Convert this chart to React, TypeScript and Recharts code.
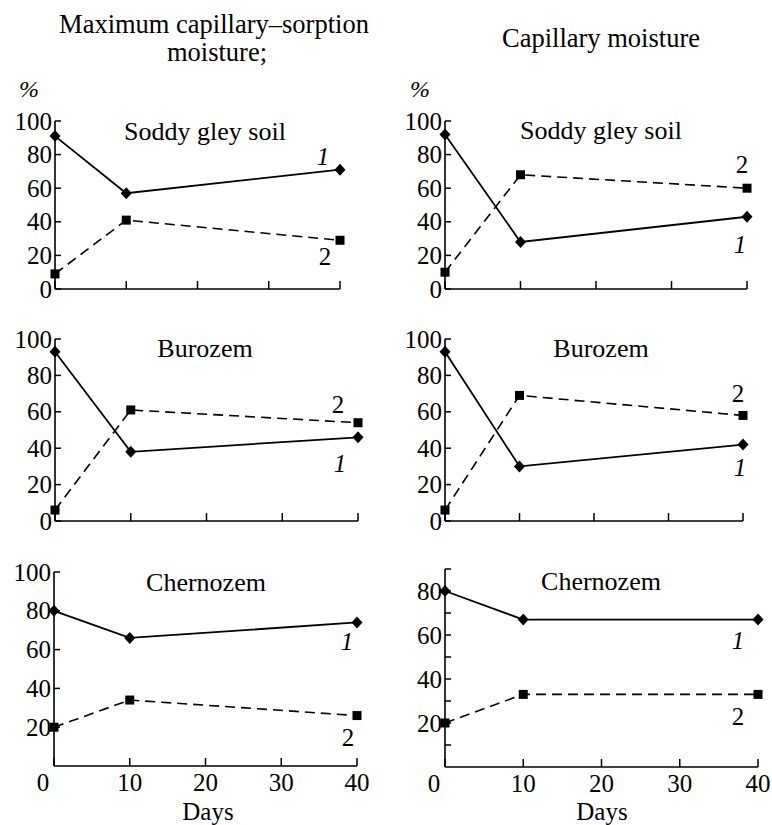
import React from 'react';
import { LineChart, Line, XAxis, YAxis, LabelList } from 'recharts';

const FONT = '"Liberation Serif", "Times New Roman", "DejaVu Serif", serif';
const TICK_MARGIN = 6;
const txt = (size: number, italic = false): React.CSSProperties => ({
  fontFamily: FONT,
  fontSize: size,
  fontStyle: italic ? 'italic' : 'normal',
  fill: '#000',
});

// sampling days (x) and axis ticks
const days = [0, 10, 40];
const xTicks = [0, 10, 20, 30, 40];
const yTicksFull = [0, 20, 40, 60, 80, 100];
const yTicksChernMax = [20, 40, 60, 80, 100];
const yTicksChernCap = [10, 20, 30, 40, 50, 60, 70, 80, 90];
const yLabelsChernCap = [20, 40, 60, 80];

// 1 = solid line with diamonds, 2 = dashed line with squares
const soddyMax1 = [91, 57, 71];
const soddyMax2 = [9, 41, 29];
const soddyCap1 = [92, 28, 43];
const soddyCap2 = [10, 68, 60];
const buroMax1 = [93, 38, 46];
const buroMax2 = [6, 61, 54];
const buroCap1 = [93, 30, 42];
const buroCap2 = [6, 69, 58];
const chernMax1 = [80, 66, 74];
const chernMax2 = [20, 34, 26];
const chernCap1 = [80, 67, 67];
const chernCap2 = [20, 33, 33];

const toRows = (a: number[], b: number[]) =>
  days.map((d, i) => ({ day: d, s1: a[i], s2: b[i] }));

const panels = [
  { id: 'p1', rows: toRows(soddyMax1, soddyMax2), domain: [0, 100], ticks: yTicksFull, labels: yTicksFull, xLabels: false,
    px: 55, py: 121, pw: 285, ph: 168, lab1: [-17, -13], lab2: [-15, 17] },
  { id: 'p2', rows: toRows(soddyCap1, soddyCap2), domain: [0, 100], ticks: yTicksFull, labels: yTicksFull, xLabels: false,
    px: 445, py: 121, pw: 302, ph: 168, lab1: [-7, 28], lab2: [-5, -23] },
  { id: 'p3', rows: toRows(buroMax1, buroMax2), domain: [0, 100], ticks: yTicksFull, labels: yTicksFull, xLabels: false,
    px: 55, py: 339, pw: 303, ph: 182, lab1: [-18, 27], lab2: [-20, -18] },
  { id: 'p4', rows: toRows(buroCap1, buroCap2), domain: [0, 100], ticks: yTicksFull, labels: yTicksFull, xLabels: false,
    px: 445, py: 339, pw: 298, ph: 182, lab1: [-3, 23], lab2: [-5, -21] },
  { id: 'p5', rows: toRows(chernMax1, chernMax2), domain: [0, 100], ticks: yTicksChernMax, labels: yTicksChernMax, xLabels: true,
    px: 54, py: 572, pw: 303, ph: 194, lab1: [-10, 20], lab2: [-9, 22] },
  { id: 'p6', rows: toRows(chernCap1, chernCap2), domain: [0, 90], ticks: yTicksChernCap, labels: yLabelsChernCap, xLabels: true,
    px: 445, py: 569, pw: 313, ph: 198, lab1: [-20, 21], lab2: [-20, 23] },
];

const Diamond = (p: any) => {
  const { cx, cy } = p;
  if (cx == null || cy == null) return <g />;
  return <polygon points={`${cx},${cy - 6} ${cx + 5.5},${cy} ${cx},${cy + 6} ${cx - 5.5},${cy}`} fill="#000" />;
};

const Square = (p: any) => {
  const { cx, cy } = p;
  if (cx == null || cy == null) return <g />;
  return <rect x={cx - 4.5} y={cy - 4.5} width={9} height={9} fill="#000" />;
};

const makeYTick = (labels: number[]) => (p: any) => {
  const ax = p.x + TICK_MARGIN;
  const v = p.payload.value;
  return (
    <g>
      <line x1={ax} x2={ax + 6} y1={p.y} y2={p.y} stroke="#000" strokeWidth={1.5} />
      {labels.includes(v) && (
        <text x={ax - 3} y={p.y + 8.5} textAnchor="end" style={txt(25)}>
          {v}
        </text>
      )}
    </g>
  );
};

const makeXTick = (showLabel: boolean) => (p: any) => {
  const ay = p.y - TICK_MARGIN;
  const v = p.payload.value;
  return (
    <g>
      <line x1={p.x} x2={p.x} y1={ay} y2={ay - 8} stroke="#000" strokeWidth={1.5} />
      {showLabel && (
        <text x={p.x + (v === 0 ? -11 : 0)} y={ay + 25} textAnchor="middle" style={txt(25)}>
          {v}
        </text>
      )}
    </g>
  );
};

const makeSeriesLabel = (text: string, off: number[], italic: boolean) => (p: any) => {
  if (p.index !== days.length - 1) return <g />;
  const x = p.x ?? p.viewBox?.x;
  const y = p.y ?? p.viewBox?.y;
  return (
    <text x={x + off[0]} y={y + off[1] + 8} textAnchor="middle" style={txt(25, italic)}>
      {text}
    </text>
  );
};

const Panel = ({ cfg }: { cfg: (typeof panels)[number] }) => {
  const top = 12;
  const yw = 60;
  const right = 20;
  const xh = cfg.xLabels ? 40 : 12;
  return (
    <div style={{ position: 'absolute', left: cfg.px - yw, top: cfg.py - top }}>
      <LineChart width={cfg.pw + yw + right} height={cfg.ph + top + xh} data={cfg.rows}
        margin={{ top, right, left: 0, bottom: 0 }}>
        <XAxis dataKey="day" type="number" domain={[0, 40]} ticks={xTicks} height={xh}
          axisLine={{ stroke: '#000', strokeWidth: 1.6 }} tickLine={false} tickSize={0} tickMargin={TICK_MARGIN}
          tick={makeXTick(cfg.xLabels)} interval={0} />
        <YAxis type="number" domain={cfg.domain} ticks={cfg.ticks} width={yw}
          axisLine={{ stroke: '#000', strokeWidth: 1.6 }} tickLine={false} tickSize={0} tickMargin={TICK_MARGIN}
          tick={makeYTick(cfg.labels)} interval={0} />
        <Line dataKey="s1" stroke="#000" strokeWidth={1.8} dot={Diamond} activeDot={false} isAnimationActive={false}>
          <LabelList dataKey="s1" content={makeSeriesLabel('1', cfg.lab1, true)} />
        </Line>
        <Line dataKey="s2" stroke="#000" strokeWidth={1.6} strokeDasharray="10 6" dot={Square} activeDot={false}
          isAnimationActive={false}>
          <LabelList dataKey="s2" content={makeSeriesLabel('2', cfg.lab2, false)} />
        </Line>
      </LineChart>
    </div>
  );
};

const titles = [
  { text: 'Soddy gley soil', x: 205, y: 140 },
  { text: 'Soddy gley soil', x: 601, y: 139 },
  { text: 'Burozem', x: 205, y: 357 },
  { text: 'Burozem', x: 601, y: 357 },
  { text: 'Chernozem', x: 206, y: 591 },
  { text: 'Chernozem', x: 601, y: 590 },
];

export default function App() {
  return (
    <div style={{ position: 'absolute', left: 0, top: 0, width: 772, height: 825, background: '#fff', overflow: 'hidden' }}>
      <svg width={772} height={825} style={{ position: 'absolute', left: 0, top: 0 }}>
        <text x={214} y={33} textAnchor="middle" style={txt(26.5)}>Maximum capillary–sorption</text>
        <text x={217} y={61} textAnchor="middle" style={txt(26.5)}>moisture;</text>
        <text x={601} y={47} textAnchor="middle" style={txt(26.5)}>Capillary moisture</text>
        <text x={29} y={97} textAnchor="middle" style={txt(24, true)}>%</text>
        <text x={420} y={97} textAnchor="middle" style={txt(24, true)}>%</text>
        {titles.map((t, i) => (
          <text key={i} x={t.x} y={t.y} textAnchor="middle" style={txt(26)}>{t.text}</text>
        ))}
        <text x={208} y={820} textAnchor="middle" style={txt(25)}>Days</text>
        <text x={602} y={820} textAnchor="middle" style={txt(25)}>Days</text>
      </svg>
      {panels.map((p) => (
        <Panel key={p.id} cfg={p} />
      ))}
    </div>
  );
}
